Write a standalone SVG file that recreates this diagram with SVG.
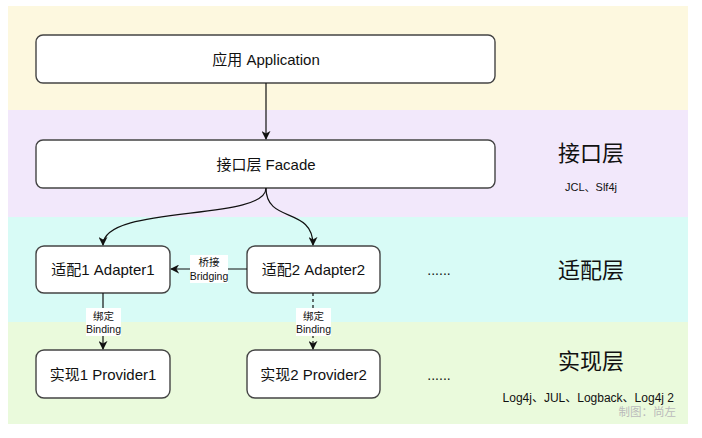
<svg xmlns="http://www.w3.org/2000/svg" width="702" height="438" viewBox="0 0 702 438">
<defs>
<marker id="ah" viewBox="0 0 10 10" refX="9" refY="5" markerWidth="9" markerHeight="9" markerUnits="userSpaceOnUse" orient="auto">
<path d="M0,0 L10,5 L0,10 L3,5 Z" fill="#111"/>
</marker>
<style>
.t{font-family:"Liberation Sans","Noto Sans CJK SC",sans-serif;fill:#111;text-anchor:middle;dominant-baseline:central}
.box{fill:#fff;stroke:#444;stroke-width:1.4}
.big{font-size:22px}
.bt{font-size:15px}
.sm{font-size:10.5px}
.ln{fill:none;stroke:#111;stroke-width:1.2}
.lbg{fill:#fff}
</style>
</defs>
<rect width="702" height="438" fill="#fff"/>
<g id="bands">
<rect x="8" y="6" width="680" height="104" fill="#fdf8df"/>
<rect x="8" y="110" width="680" height="107" fill="#f2e8fb"/>
<rect x="8" y="217" width="680" height="105" fill="#d8fbf6"/>
<rect x="8" y="322" width="680" height="102" fill="#eafadc"/>
</g>
<g id="app"><rect class="box" x="36" y="35" width="459" height="48" rx="7"/><text class="t bt" x="266" y="59">应用 Application</text></g>
<g id="facade"><rect class="box" x="36" y="140" width="459" height="48" rx="7"/><text class="t bt" x="266" y="164">接口层 Facade</text></g>
<g id="adapter1"><rect class="box" x="36" y="246" width="134" height="47" rx="8"/><text class="t bt" x="103" y="269.5">适配1 Adapter1</text></g>
<g id="adapter2"><rect class="box" x="247" y="246" width="133" height="47" rx="8"/><text class="t bt" x="313.5" y="269.5">适配2 Adapter2</text></g>
<g id="provider1"><rect class="box" x="36" y="350" width="134" height="48" rx="8"/><text class="t bt" x="103" y="374">实现1 Provider1</text></g>
<g id="provider2"><rect class="box" x="247" y="350" width="133" height="48" rx="8"/><text class="t bt" x="313.5" y="374">实现2 Provider2</text></g>
<g id="connectors">
<path class="ln" d="M266,83 L266,139" marker-end="url(#ah)"/>
<path class="ln" d="M266,188 C266,222 103,204 103,245" marker-end="url(#ah)"/>
<path class="ln" d="M266,188 C266,224 313,206 313,245" marker-end="url(#ah)"/>
<path class="ln" d="M247,269 L171,269" marker-end="url(#ah)"/>
<rect class="lbg" x="190" y="255" width="38" height="28"/>
<text class="t sm" x="209" y="262">桥接</text>
<text class="t sm" x="209" y="276">Bridging</text>
<path class="ln" d="M103,293 L103,349" marker-end="url(#ah)"/>
<rect class="lbg" x="86" y="308" width="35" height="28"/>
<text class="t sm" x="103.5" y="315.5">绑定</text>
<text class="t sm" x="103.5" y="329">Binding</text>
<path class="ln" d="M313,293 L313,349" stroke-dasharray="3,3" marker-end="url(#ah)"/>
<rect class="lbg" x="296" y="308" width="35" height="28"/>
<text class="t sm" x="313.5" y="315.5">绑定</text>
<text class="t sm" x="313.5" y="329">Binding</text>
</g>
<g id="labels">
<text class="t" x="439" y="270" font-size="14">......</text>
<text class="t" x="439" y="375" font-size="14">......</text>
<text class="t big" x="591" y="153">接口层</text>
<text class="t" x="591" y="187" font-size="11">JCL、Slf4j</text>
<text class="t big" x="591" y="270">适配层</text>
<text class="t big" x="591" y="361">实现层</text>
<text class="t" x="674" y="398" font-size="12" style="text-anchor:end">Log4j、JUL、Logback、Log4j 2</text>
<text class="t" x="676" y="412" font-size="11.5" style="text-anchor:end;fill:#bbbbbb">制图：尚左</text>
</g>
</svg>
